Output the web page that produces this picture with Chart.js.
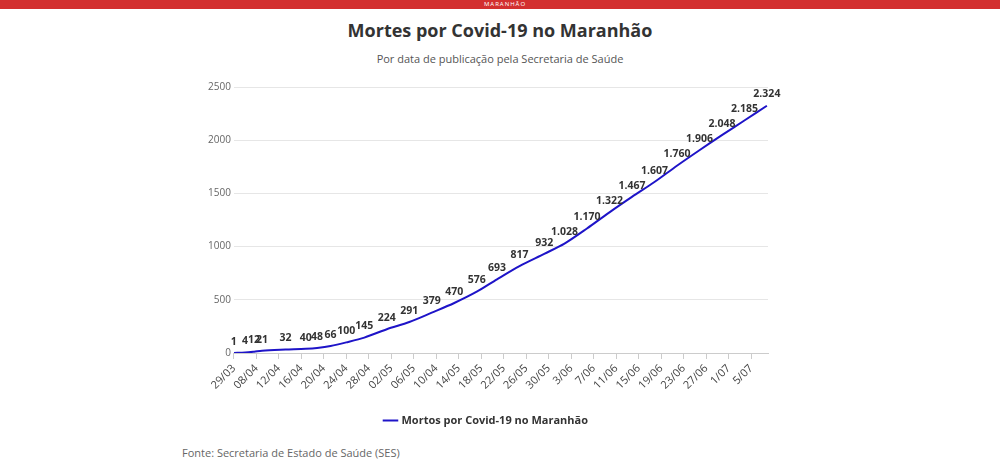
<!DOCTYPE html>
<html><head><meta charset="utf-8">
<script src="https://cdn.jsdelivr.net/npm/chart.js@4"></script>
<style>
body{margin:0;background:#fff;font-family:"Open Sans",sans-serif;width:1000px;height:471px;position:relative;overflow:hidden}
#bar{position:absolute;left:0;top:0;width:1000px;height:9px;background:#d32f2f}
#logo{position:absolute;left:460px;top:0;width:90px;height:9px;font-size:6px;color:#fff;text-align:center;line-height:9px;letter-spacing:1px}
h1{position:absolute;top:18px;width:1000px;text-align:center;margin:0;font-size:18px;font-weight:700;color:#333}
h2{position:absolute;top:51px;width:1000px;text-align:center;margin:0;font-size:11px;font-weight:400;color:#555}
#wrap{position:absolute;left:205px;top:78px;width:585px;height:358px}
#src{position:absolute;left:182px;top:445px;font-size:11px;color:#666}
</style></head><body>
<div id="bar"></div><div id="logo">MARANHÃO</div>
<h1>Mortes por Covid-19 no Maranhão</h1>
<h2>Por data de publicação pela Secretaria de Saúde</h2>
<div id="wrap"><canvas id="chjs_chart0"></canvas></div>
<div id="src">Fonte: Secretaria de Estado de Saúde (SES)</div>
<script>
const tick_labels = ["29/03","08/04","12/04","16/04","20/04","24/04","28/04","02/05","06/05","10/04","14/05","18/05","22/05","26/05","30/05","3/06","7/06","11/06","15/06","19/06","23/06","27/06","1/07","5/07"];
// position along the axis (tick index), deaths
const mortes = [
  [0,1],[0.5,4],[0.9,12],[1.25,21],[2.3,32],[3.2,40],[3.7,48],[4.3,66],[5.0,100],[5.8,145],
  [6.8,224],[7.8,291],[8.8,379],[9.8,470],[10.8,576],[11.7,693],[12.7,817],[13.8,932],[14.7,1028],
  [15.7,1170],[16.7,1322],[17.7,1467],[18.7,1607],[19.7,1760],[20.7,1906],[21.7,2048],[22.7,2185],[23.7,2324]
];
const labelPlugin = {
  id: "valueLabels",
  afterDatasetsDraw(chart){
    const ctx = chart.ctx;
    const meta = chart.getDatasetMeta(0);
    ctx.save();
    ctx.font = "bold 10.5px 'Open Sans'";
    ctx.fillStyle = "#333";
    ctx.textAlign = "center";
    ctx.textBaseline = "bottom";
    meta.data.forEach((pt, i) => {
      const v = mortes[i][1];
      ctx.fillText(v.toLocaleString("pt-BR"), pt.x, pt.y - 6);
    });
    ctx.restore();
  }
};
new Chart(document.getElementById("chjs_chart0"), {
  type: "line",
  data: {
    datasets: [{
      label: "Mortos por Covid-19 no Maranhão",
      data: mortes.map(d => ({x: d[0], y: d[1]})),
      fill: false,
      borderColor: "rgb(30, 20, 200)",
      backgroundColor: "rgb(30, 20, 200)",
      borderWidth: 2,
      pointRadius: 0,
      tension: 0.3
    }]
  },
  options: {
    responsive: true,
    maintainAspectRatio: false,
    animation: false,
    layout: {padding: {top: 0, right: 22}},
    plugins: {
      legend: {position: "bottom", labels: {usePointStyle: true, pointStyle: "line", boxWidth: 12, font: {family: "Open Sans", size: 11, weight: "bold"}, color: "#333", padding: 20}},
      tooltip: {enabled: false}
    },
    scales: {
      x: {
        type: "linear", min: 0, max: 23.75,
        afterBuildTicks: axis => { axis.ticks = tick_labels.map((l, i) => ({value: i})); },
        ticks: {autoSkip: false, maxRotation: 45, minRotation: 45, color: "#444", font: {family: "Open Sans", size: 11},
          callback: v => tick_labels[v] || ""},
        grid: {display: true, drawOnChartArea: false, drawTicks: true, tickLength: 6, color: "#ccc"},
        border: {color: "#ccc"}
      },
      y: {
        min: 0, max: 2500,
        ticks: {stepSize: 500, color: "#666", font: {family: "Open Sans", size: 10}, callback: v => v},
        grid: {color: "#e6e6e6", drawTicks: false},
        border: {display: false}
      }
    }
  },
  plugins: [labelPlugin]
});
</script>
</body></html>
